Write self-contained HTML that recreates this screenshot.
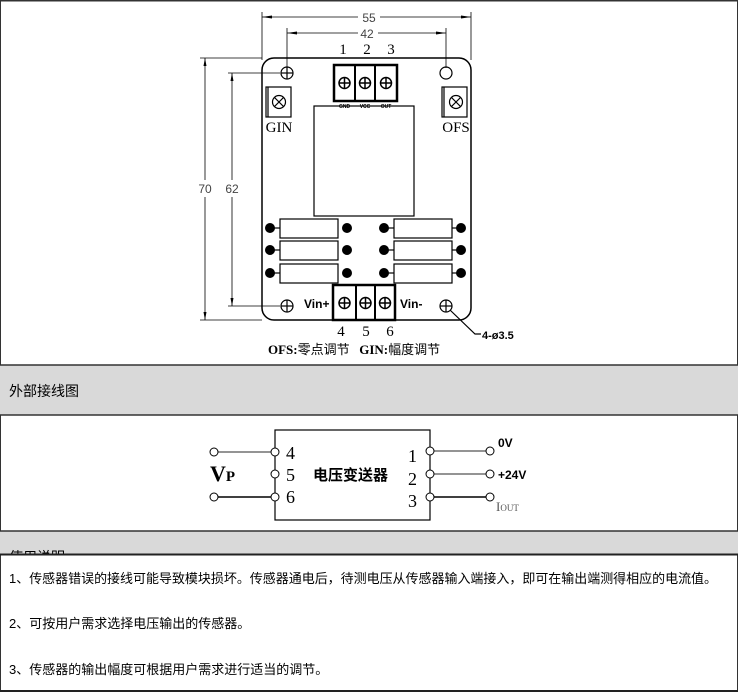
<!DOCTYPE html>
<html><head><meta charset="utf-8"><style>
html,body{margin:0;padding:0;background:#fff}
svg{display:block}
text{font-family:"Liberation Sans","Noto Sans CJK SC",sans-serif}
text.s,.s text,.s tspan,tspan.s{font-family:"Liberation Serif","Noto Serif CJK SC",serif}
</style></head><body>
<svg width="738" height="692" viewBox="0 0 738 692" xmlns="http://www.w3.org/2000/svg">
<rect x="0" y="0" width="738" height="692" fill="#fff"/>
<line x1="0" y1="0.5" x2="738" y2="0.5" stroke="#333" stroke-width="2"/>
<line x1="0.5" y1="0" x2="0.5" y2="692" stroke="#333"/>
<line x1="737.5" y1="0" x2="737.5" y2="692" stroke="#333"/>

<g stroke="#000" stroke-width="0.8" fill="none">
<line x1="262" y1="12" x2="262" y2="60"/><line x1="471" y1="12" x2="471" y2="60"/>
<line x1="262" y1="17" x2="358" y2="17"/><line x1="380" y1="17" x2="471" y2="17"/>
<line x1="287" y1="28" x2="287" y2="68"/><line x1="446" y1="28" x2="446" y2="68"/>
<line x1="287" y1="33" x2="358" y2="33"/><line x1="378" y1="33" x2="446" y2="33"/>
<line x1="200" y1="58" x2="262" y2="58"/><line x1="200" y1="320" x2="262" y2="320"/>
<line x1="205" y1="58" x2="205" y2="180"/><line x1="205" y1="197" x2="205" y2="320"/>
<line x1="228" y1="73" x2="280" y2="73"/><line x1="228" y1="306" x2="280" y2="306"/>
<line x1="232" y1="73" x2="232" y2="180"/><line x1="232" y1="197" x2="232" y2="306"/>
</g>
<g fill="#000">
<polygon points="262,17 272,15.5 272,18.5"/><polygon points="471,17 461,15.5 461,18.5"/>
<polygon points="287,33 297,31.5 297,34.5"/><polygon points="446,33 436,31.5 436,34.5"/>
<polygon points="205,58 203.5,66 206.5,66"/><polygon points="205,320 203.5,312 206.5,312"/>
<polygon points="232,73 230.5,81 233.5,81"/><polygon points="232,306 230.5,298 233.5,298"/>
</g>
<g font-size="12" fill="#444" text-anchor="middle">
<text x="369" y="22">55</text><text x="367" y="38">42</text>
<text x="205" y="193">70</text><text x="232" y="193">62</text>
</g>

<rect x="262" y="58" width="209" height="262" rx="12" fill="none" stroke="#000" stroke-width="1.5"/>
<g stroke="#000" stroke-width="1.2" fill="none">
<circle cx="287" cy="73" r="6"/><line x1="281" y1="73" x2="293" y2="73"/><line x1="287" y1="67" x2="287" y2="79"/>
<circle cx="446" cy="73" r="6"/>
<circle cx="287" cy="306" r="6"/><line x1="281" y1="306" x2="293" y2="306"/><line x1="287" y1="300" x2="287" y2="312"/>
<circle cx="446" cy="306" r="6"/><line x1="440" y1="306" x2="452" y2="306"/><line x1="446" y1="300" x2="446" y2="312"/>
<polyline points="450,310 475,334 481,334"/>
</g>
<text x="482" y="339" font-size="11" font-weight="bold">4-ø3.5</text>

<rect x="334" y="65" width="63" height="36" fill="none" stroke="#000" stroke-width="2.5"/>
<line x1="355" y1="65" x2="355" y2="101" stroke="#000" stroke-width="2"/>
<line x1="375" y1="65" x2="375" y2="101" stroke="#000" stroke-width="2"/>
<g stroke="#000" stroke-width="1.5" fill="none">
<circle cx="344.5" cy="83" r="5.5"/><line x1="339" y1="83" x2="350" y2="83"/><line x1="344.5" y1="77.5" x2="344.5" y2="88.5"/>
<circle cx="365" cy="83" r="5.5"/><line x1="359.5" y1="83" x2="370.5" y2="83"/><line x1="365" y1="77.5" x2="365" y2="88.5"/>
<circle cx="386" cy="83" r="5.5"/><line x1="380.5" y1="83" x2="391.5" y2="83"/><line x1="386" y1="77.5" x2="386" y2="88.5"/>
</g>
<g font-size="5" font-weight="bold" text-anchor="middle"><text x="344.5" y="108">GND</text><text x="365" y="108">VCC</text><text x="386" y="108">OUT</text></g>
<g class="s" font-size="15" text-anchor="middle"><text x="343" y="54">1</text><text x="367" y="54">2</text><text x="391" y="54">3</text>
<text x="341" y="336">4</text><text x="366" y="336">5</text><text x="390" y="336">6</text></g>

<g stroke="#000" stroke-width="1.2" fill="none">
<rect x="266" y="87" width="25" height="30"/><line x1="268" y1="87" x2="268" y2="117"/>
<circle cx="279" cy="102" r="6.5"/><line x1="274.5" y1="97.5" x2="283.5" y2="106.5"/><line x1="283.5" y1="97.5" x2="274.5" y2="106.5"/>
<rect x="442" y="87" width="25" height="30"/><line x1="444" y1="87" x2="444" y2="117"/>
<circle cx="456" cy="102" r="6.5"/><line x1="451.5" y1="97.5" x2="460.5" y2="106.5"/><line x1="460.5" y1="97.5" x2="451.5" y2="106.5"/>
<rect x="314" y="106" width="100" height="110"/>
</g>
<g class="s" font-size="15" text-anchor="middle"><text x="279" y="132">GIN</text><text x="456" y="132">OFS</text></g>

<g stroke="#000" stroke-width="1.2" fill="none">
<rect x="280" y="219" width="58" height="19"/><rect x="280" y="241" width="58" height="19"/><rect x="280" y="264" width="58" height="19"/>
<rect x="394" y="219" width="58" height="19"/><rect x="394" y="241" width="58" height="19"/><rect x="394" y="264" width="58" height="19"/>
<line x1="270" y1="228" x2="280" y2="228"/><line x1="270" y1="250" x2="280" y2="250"/><line x1="270" y1="273" x2="280" y2="273"/>
<line x1="384" y1="228" x2="394" y2="228"/><line x1="384" y1="250" x2="394" y2="250"/><line x1="384" y1="273" x2="394" y2="273"/>
<line x1="452" y1="228" x2="461" y2="228"/><line x1="452" y1="250" x2="461" y2="250"/><line x1="452" y1="273" x2="461" y2="273"/>
</g>
<g fill="#000">
<circle cx="270" cy="228" r="5"/><circle cx="270" cy="250" r="5"/><circle cx="270" cy="273" r="5"/>
<circle cx="347" cy="228" r="5"/><circle cx="347" cy="250" r="5"/><circle cx="347" cy="273" r="5"/>
<circle cx="384" cy="228" r="5"/><circle cx="384" cy="250" r="5"/><circle cx="384" cy="273" r="5"/>
<circle cx="461" cy="228" r="5"/><circle cx="461" cy="250" r="5"/><circle cx="461" cy="273" r="5"/>
</g>

<rect x="333" y="285" width="62" height="35" fill="none" stroke="#000" stroke-width="2.5"/>
<line x1="356" y1="285" x2="356" y2="320" stroke="#000" stroke-width="2"/>
<line x1="375" y1="285" x2="375" y2="320" stroke="#000" stroke-width="2"/>
<g stroke="#000" stroke-width="1.5" fill="none">
<circle cx="344.5" cy="303" r="5.5"/><line x1="339" y1="303" x2="350" y2="303"/><line x1="344.5" y1="297.5" x2="344.5" y2="308.5"/>
<circle cx="365.5" cy="303" r="5.5"/><line x1="360" y1="303" x2="371" y2="303"/><line x1="365.5" y1="297.5" x2="365.5" y2="308.5"/>
<circle cx="385" cy="303" r="5.5"/><line x1="379.5" y1="303" x2="390.5" y2="303"/><line x1="385" y1="297.5" x2="385" y2="308.5"/>
</g>
<g font-size="12" font-weight="bold"><text x="304" y="308">Vin+</text><text x="400" y="308">Vin-</text></g>
<text x="268" y="354" font-size="13"><tspan class="s" font-weight="bold">OFS:</tspan>零点调节  <tspan class="s" font-weight="bold" dx="6">GIN:</tspan>幅度调节</text>

<rect x="0" y="365" width="738" height="50" fill="#d9d9d9"/>
<line x1="0" y1="365" x2="738" y2="365" stroke="#333" stroke-width="1.5"/>
<line x1="0" y1="415" x2="738" y2="415" stroke="#333" stroke-width="1.5"/>
<text x="9" y="396" font-size="14">外部接线图</text>

<rect x="275" y="430" width="155" height="90" fill="none" stroke="#000" stroke-width="1.2"/>
<g stroke="#555" stroke-width="1.2">
<line x1="218" y1="452" x2="271" y2="452"/><line x1="218" y1="497" x2="271" y2="497" stroke="#000" stroke-width="1.6"/>
<line x1="434" y1="451" x2="486" y2="451"/><line x1="434" y1="474" x2="486" y2="474"/><line x1="434" y1="497" x2="486" y2="497" stroke="#000" stroke-width="1.6"/>
</g>
<g stroke="#000" stroke-width="1" fill="#fff">
<circle cx="214" cy="452" r="4"/><circle cx="214" cy="497" r="4"/>
<circle cx="275" cy="452" r="4"/><circle cx="275" cy="474" r="4"/><circle cx="275" cy="497" r="4"/>
<circle cx="430" cy="451" r="4"/><circle cx="430" cy="474" r="4"/><circle cx="430" cy="497" r="4"/>
<circle cx="490" cy="451" r="4"/><circle cx="490" cy="474" r="4"/><circle cx="490" cy="497" r="4"/>
</g>
<g class="s" font-size="18">
<text x="286" y="459">4</text><text x="286" y="481">5</text><text x="286" y="503">6</text>
<text x="408" y="462">1</text><text x="408" y="485">2</text><text x="408" y="507">3</text>
</g>
<text class="s" x="210" y="481" font-size="22" font-weight="bold">V<tspan class="s" font-size="15">P</tspan></text>
<text x="313" y="480" font-size="15" font-weight="bold">电压变送器</text>
<g font-size="12" font-weight="bold"><text x="498" y="447">0V</text><text x="498" y="479">+24V</text></g>
<text class="s" x="496" y="511" font-size="13" fill="#555">I<tspan class="s" font-size="9">OUT</tspan></text>

<rect x="0" y="531" width="738" height="24" fill="#d9d9d9"/>
<line x1="0" y1="531" x2="738" y2="531" stroke="#333" stroke-width="1.5"/>
<svg x="0" y="531" width="738" height="23"><text x="9" y="31" font-size="14">使用说明</text></svg>
<line x1="0" y1="554.5" x2="738" y2="554.5" stroke="#222" stroke-width="2"/>
<line x1="0" y1="691" x2="738" y2="691" stroke="#222" stroke-width="2"/>
<g font-size="13">
<text x="9" y="583" textLength="708" lengthAdjust="spacingAndGlyphs">1、传感器错误的接线可能导致模块损坏。传感器通电后，待测电压从传感器输入端接入，即可在输出端测得相应的电流值。</text>
<text x="9" y="628">2、可按用户需求选择电压输出的传感器。</text>
<text x="9" y="674">3、传感器的输出幅度可根据用户需求进行适当的调节。</text>
</g>
</svg>
</body></html>
